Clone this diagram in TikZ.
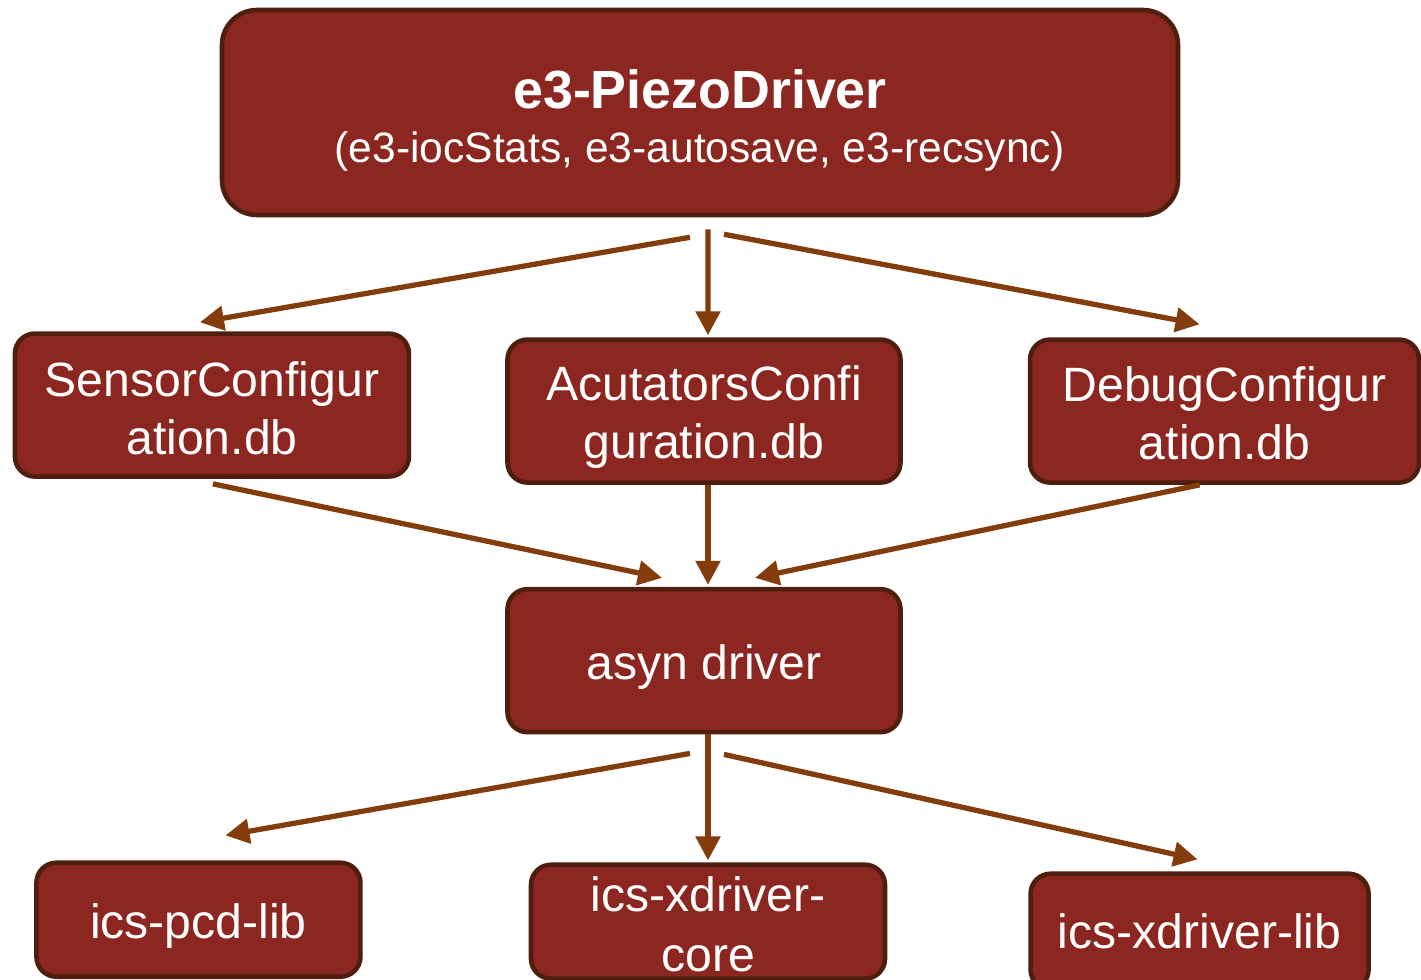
\documentclass[tikz,border=0pt]{standalone}
\usepackage{fontspec}
\setmainfont{Liberation Sans}
\usepackage{xcolor}
\usepackage{tikz}
\usetikzlibrary{arrows.meta, positioning, calc}
\definecolor{boxred}{RGB}{139, 39, 32}
\definecolor{boxedge}{RGB}{78, 30, 14}
\definecolor{linkbrown}{RGB}{131, 60, 11}
\newcommand{\dbstrut}[1][0.47cm]{\rule{0pt}{#1}}
\tikzset{
    topbox/.style={rectangle, rounded corners=0.35cm, draw=boxedge, fill=boxred, line width=1.3pt, minimum width=9.56cm, minimum height=2.05cm, inner sep=0pt, align=center, text=white},
    dbbox/.style={rectangle, rounded corners=0.2cm, draw=boxedge, fill=boxred, line width=1.3pt, minimum width=3.93cm, minimum height=1.43cm, inner sep=0pt, align=center, text=white, font=\fontsize{13.7}{16.6}\selectfont},
    libbox/.style={dbbox, minimum height=1.14cm},
    link/.style={line width=1.5pt, draw=linkbrown, -{Triangle[length=0.24cm, width=0.24cm]}}
}
\begin{document}
\begin{tikzpicture}
    \useasboundingbox (0,0) rectangle (14.21,-9.79);
    \node (piezo) [topbox] at (7.00,-1.125) {\rule{0pt}{0.55cm}{\fontsize{15.3}{18}\selectfont\bfseries e3-PiezoDriver}\\[0.11cm]
        {\fontsize{12.1}{14.5}\selectfont (e3-iocStats, e3-autosave, e3-recsync)}};
    \node (acts) [dbbox, below=1.20cm of piezo, xshift=0.04cm] {\dbstrut AcutatorsConfi\\guration.db};
    \node (sensor) [dbbox, left=0.94cm of acts, yshift=0.06cm, minimum width=3.94cm] {\dbstrut[0.41cm]SensorConfigur\\ation.db};
    \node (debug) [dbbox, right=1.25cm of acts, minimum width=3.89cm] {\dbstrut[0.39cm]DebugConfigur\\ation.db};
    \node (asyn) [dbbox, below=1.02cm of acts] {\dbstrut asyn driver};
    \node (core) [libbox, below=1.28cm of asyn, xshift=0.04cm, minimum width=3.54cm] {\dbstrut[0.40cm]ics-xdriver-\\[0.02cm]core};
    \node (pcd) [libbox, left=1.66cm of core, yshift=0.02cm, minimum width=3.24cm] {\dbstrut ics-pcd-lib};
    \node (xlib) [libbox, right=1.41cm of core, yshift=-0.10cm, minimum width=3.38cm, minimum height=1.16cm] {ics-xdriver-lib};

    \draw [link] ([shift={(-0.10,-0.20)}]piezo.south) -- ([shift={(-0.12,0.09)}]sensor.north);
    \draw [link] ([shift={(0.08,-0.12)}]piezo.south) -- ([shift={(0.04,0.02)}]acts.north);
    \draw [link] ([shift={(0.24,-0.17)}]piezo.south) -- ([shift={(-0.25,0.13)}]debug.north);
    \draw [link] ([shift={(0.01,-0.05)}]sensor.south) -- ([shift={(-0.42,0.09)}]asyn.north);
    \draw [link] ([shift={(0.04,0)}]acts.south) -- ([shift={(0.04,0.02)}]asyn.north);
    \draw [link] ([shift={(-0.25,0)}]debug.south) -- ([shift={(0.51,0.09)}]asyn.north);
    \draw [link] ([shift={(-0.14,-0.19)}]asyn.south) -- ([shift={(0.27,0.25)}]pcd.north);
    \draw [link] ([shift={(0.04,0)}]asyn.south) -- ([shift={(0,0.02)}]core.north);
    \draw [link] ([shift={(0.20,-0.20)}]asyn.south) -- ([shift={(-0.02,0.12)}]xlib.north);
\end{tikzpicture}
\end{document}
